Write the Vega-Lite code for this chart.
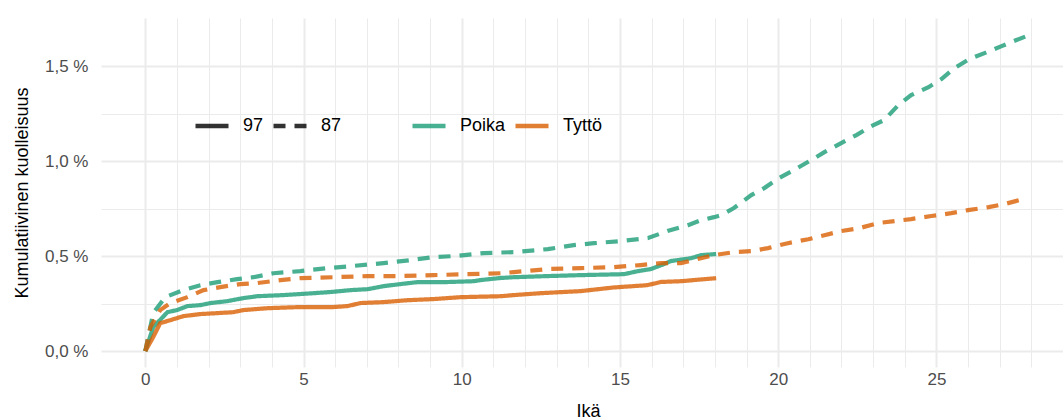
{
  "$schema": "https://vega.github.io/schema/vega-lite/v6.json",
  "width": 962,
  "height": 349,
  "autosize": {"type": "none"},
  "padding": {"left": 101, "top": 18, "right": 0, "bottom": 52},
  "background": "white",
  "config": {
    "view": {"stroke": null},
    "font": "Liberation Sans",
    "axis": {
      "domain": false,
      "ticks": false,
      "tickSize": 0,
      "gridColor": "#ebebeb",
      "labelColor": "#4d4d4d",
      "labelFontSize": 17,
      "labelFont": "Liberation Sans",
      "titleFont": "Liberation Sans",
      "titleFontSize": 18,
      "titleFontWeight": "normal",
      "titleColor": "black",
      "labelOverlap": false
    },
    "legend": {
      "labelFont": "Liberation Sans",
      "labelFontSize": 18,
      "labelColor": "black",
      "symbolType": "stroke",
      "symbolSize": 1089,
      "symbolStrokeWidth": 4.5,
      "labelOffset": 12,
      "columnPadding": 0,
      "padding": 0
    }
  },
  "datasets": {
    "kuolleisuus": [
      {"ika": 0, "y": 0, "sukupuoli": "Poika", "kohortti": "97"},
      {"ika": 0.25, "y": 0.126, "sukupuoli": "Poika", "kohortti": "97"},
      {"ika": 0.7, "y": 0.205, "sukupuoli": "Poika", "kohortti": "97"},
      {"ika": 1.0, "y": 0.216, "sukupuoli": "Poika", "kohortti": "97"},
      {"ika": 1.33, "y": 0.237, "sukupuoli": "Poika", "kohortti": "97"},
      {"ika": 1.74, "y": 0.242, "sukupuoli": "Poika", "kohortti": "97"},
      {"ika": 2.06, "y": 0.253, "sukupuoli": "Poika", "kohortti": "97"},
      {"ika": 2.59, "y": 0.263, "sukupuoli": "Poika", "kohortti": "97"},
      {"ika": 3.1, "y": 0.279, "sukupuoli": "Poika", "kohortti": "97"},
      {"ika": 3.54, "y": 0.289, "sukupuoli": "Poika", "kohortti": "97"},
      {"ika": 4.37, "y": 0.295, "sukupuoli": "Poika", "kohortti": "97"},
      {"ika": 5.32, "y": 0.305, "sukupuoli": "Poika", "kohortti": "97"},
      {"ika": 5.85, "y": 0.311, "sukupuoli": "Poika", "kohortti": "97"},
      {"ika": 6.49, "y": 0.321, "sukupuoli": "Poika", "kohortti": "97"},
      {"ika": 7.03, "y": 0.326, "sukupuoli": "Poika", "kohortti": "97"},
      {"ika": 7.53, "y": 0.342, "sukupuoli": "Poika", "kohortti": "97"},
      {"ika": 8.07, "y": 0.353, "sukupuoli": "Poika", "kohortti": "97"},
      {"ika": 8.6, "y": 0.363, "sukupuoli": "Poika", "kohortti": "97"},
      {"ika": 9.43, "y": 0.363, "sukupuoli": "Poika", "kohortti": "97"},
      {"ika": 10.38, "y": 0.368, "sukupuoli": "Poika", "kohortti": "97"},
      {"ika": 10.6, "y": 0.374, "sukupuoli": "Poika", "kohortti": "97"},
      {"ika": 11.23, "y": 0.385, "sukupuoli": "Poika", "kohortti": "97"},
      {"ika": 11.65, "y": 0.389, "sukupuoli": "Poika", "kohortti": "97"},
      {"ika": 12.72, "y": 0.395, "sukupuoli": "Poika", "kohortti": "97"},
      {"ika": 13.77, "y": 0.4, "sukupuoli": "Poika", "kohortti": "97"},
      {"ika": 15.13, "y": 0.405, "sukupuoli": "Poika", "kohortti": "97"},
      {"ika": 15.57, "y": 0.421, "sukupuoli": "Poika", "kohortti": "97"},
      {"ika": 15.98, "y": 0.432, "sukupuoli": "Poika", "kohortti": "97"},
      {"ika": 16.39, "y": 0.458, "sukupuoli": "Poika", "kohortti": "97"},
      {"ika": 16.61, "y": 0.474, "sukupuoli": "Poika", "kohortti": "97"},
      {"ika": 17.25, "y": 0.489, "sukupuoli": "Poika", "kohortti": "97"},
      {"ika": 17.56, "y": 0.505, "sukupuoli": "Poika", "kohortti": "97"},
      {"ika": 18.04, "y": 0.511, "sukupuoli": "Poika", "kohortti": "97"},

      {"ika": 0, "y": 0, "sukupuoli": "Tyttö", "kohortti": "97"},
      {"ika": 0.25, "y": 0.074, "sukupuoli": "Tyttö", "kohortti": "97"},
      {"ika": 0.47, "y": 0.147, "sukupuoli": "Tyttö", "kohortti": "97"},
      {"ika": 0.79, "y": 0.163, "sukupuoli": "Tyttö", "kohortti": "97"},
      {"ika": 1.2, "y": 0.184, "sukupuoli": "Tyttö", "kohortti": "97"},
      {"ika": 1.74, "y": 0.195, "sukupuoli": "Tyttö", "kohortti": "97"},
      {"ika": 2.28, "y": 0.2, "sukupuoli": "Tyttö", "kohortti": "97"},
      {"ika": 2.78, "y": 0.205, "sukupuoli": "Tyttö", "kohortti": "97"},
      {"ika": 3.1, "y": 0.216, "sukupuoli": "Tyttö", "kohortti": "97"},
      {"ika": 3.86, "y": 0.226, "sukupuoli": "Tyttö", "kohortti": "97"},
      {"ika": 4.9, "y": 0.232, "sukupuoli": "Tyttö", "kohortti": "97"},
      {"ika": 5.95, "y": 0.232, "sukupuoli": "Tyttö", "kohortti": "97"},
      {"ika": 6.39, "y": 0.237, "sukupuoli": "Tyttö", "kohortti": "97"},
      {"ika": 6.8, "y": 0.253, "sukupuoli": "Tyttö", "kohortti": "97"},
      {"ika": 7.53, "y": 0.258, "sukupuoli": "Tyttö", "kohortti": "97"},
      {"ika": 8.29, "y": 0.268, "sukupuoli": "Tyttö", "kohortti": "97"},
      {"ika": 9.11, "y": 0.274, "sukupuoli": "Tyttö", "kohortti": "97"},
      {"ika": 9.97, "y": 0.284, "sukupuoli": "Tyttö", "kohortti": "97"},
      {"ika": 11.23, "y": 0.289, "sukupuoli": "Tyttö", "kohortti": "97"},
      {"ika": 11.65, "y": 0.295, "sukupuoli": "Tyttö", "kohortti": "97"},
      {"ika": 12.5, "y": 0.305, "sukupuoli": "Tyttö", "kohortti": "97"},
      {"ika": 13.77, "y": 0.316, "sukupuoli": "Tyttö", "kohortti": "97"},
      {"ika": 14.8, "y": 0.335, "sukupuoli": "Tyttö", "kohortti": "97"},
      {"ika": 15.86, "y": 0.347, "sukupuoli": "Tyttö", "kohortti": "97"},
      {"ika": 16.3, "y": 0.364, "sukupuoli": "Tyttö", "kohortti": "97"},
      {"ika": 16.93, "y": 0.368, "sukupuoli": "Tyttö", "kohortti": "97"},
      {"ika": 18.04, "y": 0.384, "sukupuoli": "Tyttö", "kohortti": "97"},

      {"ika": 0, "y": 0, "sukupuoli": "Poika", "kohortti": "87"},
      {"ika": 0.25, "y": 0.2, "sukupuoli": "Poika", "kohortti": "87"},
      {"ika": 0.63, "y": 0.284, "sukupuoli": "Poika", "kohortti": "87"},
      {"ika": 1.2, "y": 0.321, "sukupuoli": "Poika", "kohortti": "87"},
      {"ika": 1.74, "y": 0.347, "sukupuoli": "Poika", "kohortti": "87"},
      {"ika": 2.28, "y": 0.363, "sukupuoli": "Poika", "kohortti": "87"},
      {"ika": 2.9, "y": 0.379, "sukupuoli": "Poika", "kohortti": "87"},
      {"ika": 3.42, "y": 0.389, "sukupuoli": "Poika", "kohortti": "87"},
      {"ika": 4.05, "y": 0.41, "sukupuoli": "Poika", "kohortti": "87"},
      {"ika": 4.9, "y": 0.421, "sukupuoli": "Poika", "kohortti": "87"},
      {"ika": 5.76, "y": 0.437, "sukupuoli": "Poika", "kohortti": "87"},
      {"ika": 6.49, "y": 0.447, "sukupuoli": "Poika", "kohortti": "87"},
      {"ika": 7.53, "y": 0.463, "sukupuoli": "Poika", "kohortti": "87"},
      {"ika": 8.39, "y": 0.479, "sukupuoli": "Poika", "kohortti": "87"},
      {"ika": 9.11, "y": 0.495, "sukupuoli": "Poika", "kohortti": "87"},
      {"ika": 9.75, "y": 0.5, "sukupuoli": "Poika", "kohortti": "87"},
      {"ika": 10.7, "y": 0.516, "sukupuoli": "Poika", "kohortti": "87"},
      {"ika": 11.65, "y": 0.521, "sukupuoli": "Poika", "kohortti": "87"},
      {"ika": 12.72, "y": 0.537, "sukupuoli": "Poika", "kohortti": "87"},
      {"ika": 13.54, "y": 0.558, "sukupuoli": "Poika", "kohortti": "87"},
      {"ika": 14.18, "y": 0.568, "sukupuoli": "Poika", "kohortti": "87"},
      {"ika": 15.03, "y": 0.579, "sukupuoli": "Poika", "kohortti": "87"},
      {"ika": 15.89, "y": 0.595, "sukupuoli": "Poika", "kohortti": "87"},
      {"ika": 16.5, "y": 0.632, "sukupuoli": "Poika", "kohortti": "87"},
      {"ika": 17.15, "y": 0.663, "sukupuoli": "Poika", "kohortti": "87"},
      {"ika": 17.56, "y": 0.689, "sukupuoli": "Poika", "kohortti": "87"},
      {"ika": 17.97, "y": 0.705, "sukupuoli": "Poika", "kohortti": "87"},
      {"ika": 18.2, "y": 0.716, "sukupuoli": "Poika", "kohortti": "87"},
      {"ika": 18.6, "y": 0.753, "sukupuoli": "Poika", "kohortti": "87"},
      {"ika": 19.15, "y": 0.821, "sukupuoli": "Poika", "kohortti": "87"},
      {"ika": 19.56, "y": 0.858, "sukupuoli": "Poika", "kohortti": "87"},
      {"ika": 20.03, "y": 0.911, "sukupuoli": "Poika", "kohortti": "87"},
      {"ika": 20.5, "y": 0.953, "sukupuoli": "Poika", "kohortti": "87"},
      {"ika": 21.04, "y": 1.005, "sukupuoli": "Poika", "kohortti": "87"},
      {"ika": 21.46, "y": 1.047, "sukupuoli": "Poika", "kohortti": "87"},
      {"ika": 21.99, "y": 1.095, "sukupuoli": "Poika", "kohortti": "87"},
      {"ika": 22.47, "y": 1.137, "sukupuoli": "Poika", "kohortti": "87"},
      {"ika": 22.94, "y": 1.184, "sukupuoli": "Poika", "kohortti": "87"},
      {"ika": 23.35, "y": 1.216, "sukupuoli": "Poika", "kohortti": "87"},
      {"ika": 23.8, "y": 1.295, "sukupuoli": "Poika", "kohortti": "87"},
      {"ika": 24.2, "y": 1.347, "sukupuoli": "Poika", "kohortti": "87"},
      {"ika": 24.75, "y": 1.389, "sukupuoli": "Poika", "kohortti": "87"},
      {"ika": 25.16, "y": 1.432, "sukupuoli": "Poika", "kohortti": "87"},
      {"ika": 25.57, "y": 1.489, "sukupuoli": "Poika", "kohortti": "87"},
      {"ika": 26.04, "y": 1.537, "sukupuoli": "Poika", "kohortti": "87"},
      {"ika": 26.52, "y": 1.568, "sukupuoli": "Poika", "kohortti": "87"},
      {"ika": 27.06, "y": 1.605, "sukupuoli": "Poika", "kohortti": "87"},
      {"ika": 27.53, "y": 1.637, "sukupuoli": "Poika", "kohortti": "87"},
      {"ika": 28.0, "y": 1.668, "sukupuoli": "Poika", "kohortti": "87"},

      {"ika": 0, "y": 0, "sukupuoli": "Tyttö", "kohortti": "87"},
      {"ika": 0.16, "y": 0.126, "sukupuoli": "Tyttö", "kohortti": "87"},
      {"ika": 0.47, "y": 0.216, "sukupuoli": "Tyttö", "kohortti": "87"},
      {"ika": 0.79, "y": 0.253, "sukupuoli": "Tyttö", "kohortti": "87"},
      {"ika": 1.33, "y": 0.284, "sukupuoli": "Tyttö", "kohortti": "87"},
      {"ika": 1.84, "y": 0.321, "sukupuoli": "Tyttö", "kohortti": "87"},
      {"ika": 2.37, "y": 0.337, "sukupuoli": "Tyttö", "kohortti": "87"},
      {"ika": 3.0, "y": 0.353, "sukupuoli": "Tyttö", "kohortti": "87"},
      {"ika": 3.54, "y": 0.358, "sukupuoli": "Tyttö", "kohortti": "87"},
      {"ika": 4.27, "y": 0.374, "sukupuoli": "Tyttö", "kohortti": "87"},
      {"ika": 4.9, "y": 0.384, "sukupuoli": "Tyttö", "kohortti": "87"},
      {"ika": 5.95, "y": 0.389, "sukupuoli": "Tyttö", "kohortti": "87"},
      {"ika": 7.03, "y": 0.395, "sukupuoli": "Tyttö", "kohortti": "87"},
      {"ika": 8.07, "y": 0.395, "sukupuoli": "Tyttö", "kohortti": "87"},
      {"ika": 9.11, "y": 0.4, "sukupuoli": "Tyttö", "kohortti": "87"},
      {"ika": 10.2, "y": 0.405, "sukupuoli": "Tyttö", "kohortti": "87"},
      {"ika": 11.23, "y": 0.41, "sukupuoli": "Tyttö", "kohortti": "87"},
      {"ika": 11.65, "y": 0.416, "sukupuoli": "Tyttö", "kohortti": "87"},
      {"ika": 12.72, "y": 0.432, "sukupuoli": "Tyttö", "kohortti": "87"},
      {"ika": 13.77, "y": 0.437, "sukupuoli": "Tyttö", "kohortti": "87"},
      {"ika": 14.8, "y": 0.442, "sukupuoli": "Tyttö", "kohortti": "87"},
      {"ika": 15.66, "y": 0.453, "sukupuoli": "Tyttö", "kohortti": "87"},
      {"ika": 16.3, "y": 0.463, "sukupuoli": "Tyttö", "kohortti": "87"},
      {"ika": 16.93, "y": 0.463, "sukupuoli": "Tyttö", "kohortti": "87"},
      {"ika": 17.56, "y": 0.489, "sukupuoli": "Tyttö", "kohortti": "87"},
      {"ika": 17.97, "y": 0.505, "sukupuoli": "Tyttö", "kohortti": "87"},
      {"ika": 18.6, "y": 0.521, "sukupuoli": "Tyttö", "kohortti": "87"},
      {"ika": 19.15, "y": 0.526, "sukupuoli": "Tyttö", "kohortti": "87"},
      {"ika": 19.68, "y": 0.542, "sukupuoli": "Tyttö", "kohortti": "87"},
      {"ika": 20.3, "y": 0.568, "sukupuoli": "Tyttö", "kohortti": "87"},
      {"ika": 20.95, "y": 0.589, "sukupuoli": "Tyttö", "kohortti": "87"},
      {"ika": 21.46, "y": 0.61, "sukupuoli": "Tyttö", "kohortti": "87"},
      {"ika": 21.99, "y": 0.632, "sukupuoli": "Tyttö", "kohortti": "87"},
      {"ika": 22.56, "y": 0.647, "sukupuoli": "Tyttö", "kohortti": "87"},
      {"ika": 23.16, "y": 0.674, "sukupuoli": "Tyttö", "kohortti": "87"},
      {"ika": 23.67, "y": 0.684, "sukupuoli": "Tyttö", "kohortti": "87"},
      {"ika": 24.2, "y": 0.695, "sukupuoli": "Tyttö", "kohortti": "87"},
      {"ika": 24.84, "y": 0.711, "sukupuoli": "Tyttö", "kohortti": "87"},
      {"ika": 25.47, "y": 0.726, "sukupuoli": "Tyttö", "kohortti": "87"},
      {"ika": 26.0, "y": 0.742, "sukupuoli": "Tyttö", "kohortti": "87"},
      {"ika": 26.65, "y": 0.758, "sukupuoli": "Tyttö", "kohortti": "87"},
      {"ika": 27.15, "y": 0.774, "sukupuoli": "Tyttö", "kohortti": "87"},
      {"ika": 27.75, "y": 0.8, "sukupuoli": "Tyttö", "kohortti": "87"}
    ]
  },
  "data": {"name": "kuolleisuus"},
  "mark": {"type": "line", "strokeWidth": 4.2, "opacity": 0.8, "clip": true},
  "encoding": {
    "x": {
      "field": "ika",
      "type": "quantitative",
      "scale": {"domain": [-1.4, 29], "nice": false, "zero": false},
      "axis": {
        "title": "Ikä",
        "values": [0,1,2,3,4,5,6,7,8,9,10,11,12,13,14,15,16,17,18,19,20,21,22,23,24,25,26,27,28,29],
        "labelExpr": "datum.value % 5 === 0 ? datum.label : ''",
        "gridWidth": {"condition": {"test": "datum.value % 5 === 0", "value": 2}, "value": 1},
        "labelPadding": 4,
        "titlePadding": 15,
        "titleX": 487,
        "labelFlush": false
      }
    },
    "y": {
      "field": "y",
      "type": "quantitative",
      "scale": {"domain": [-0.0835, 1.753], "nice": false, "zero": false},
      "axis": {
        "title": "Kumulatiivinen kuolleisuus",
        "values": [0, 0.25, 0.5, 0.75, 1, 1.25, 1.5],
        "labelExpr": "datum.value % 0.5 === 0 ? replace(format(datum.value, '.1f'), '.', ',') + ' %' : ''",
        "gridWidth": {"condition": {"test": "datum.value % 0.5 === 0", "value": 2}, "value": 1},
        "labelPadding": 13,
        "titlePadding": 13
      }
    },
    "color": {
      "field": "sukupuoli",
      "type": "nominal",
      "scale": {"domain": ["Poika", "Tyttö"], "range": ["#1B9E77", "#D95F02"]},
      "legend": {"orient": "none", "legendX": 309, "legendY": 89, "direction": "horizontal", "title": null}
    },
    "strokeDash": {
      "field": "kohortti",
      "type": "nominal",
      "scale": {"domain": ["97", "87"], "range": [[1, 0], [12, 9]]},
      "legend": {"orient": "none", "legendX": 92, "legendY": 89, "direction": "horizontal", "title": null, "symbolStrokeColor": "black"}
    }
  }
}
